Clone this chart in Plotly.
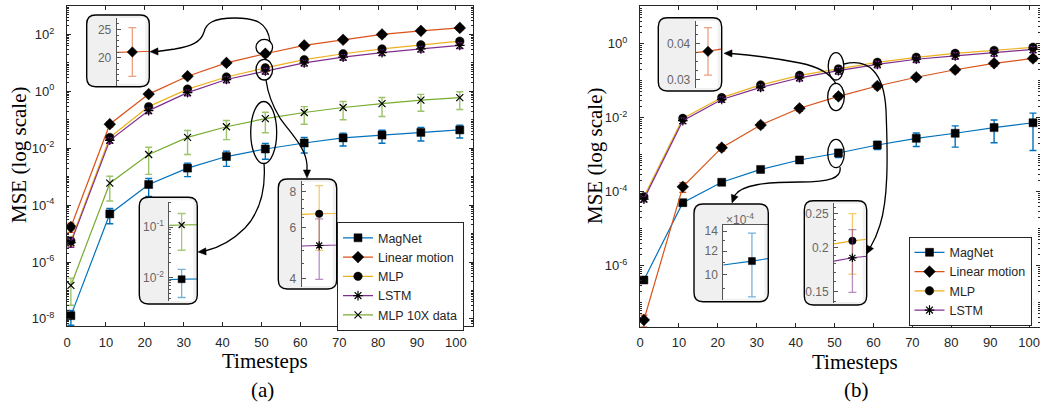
import math
import plotly.graph_objects as go

W, H = 1040, 412

# ---------------- data ----------------
timesteps = [1, 11, 21, 31, 41, 51, 61, 71, 81, 91, 101]
x_tick_vals = [0, 10, 20, 30, 40, 50, 60, 70, 80, 90, 100]

# panel (a)
magnet_a = [1.3e-8, 4.9e-5, 5.3e-4, 2.0e-3, 5.1e-3, 9.4e-3, 0.0153, 0.023, 0.029, 0.036, 0.044]
magnet_a_err = [0.7e-8, 2.7e-5, 3.3e-4, 1.0e-3, 2.8e-3, 5.3e-3, 8.5e-3, 0.011, 0.014, 0.018, 0.021]
linear_a = [1.7e-5, 0.07, 0.8, 3.4, 10, 21, 41, 65, 100, 134, 170]
linear_a_err = [6e-6, 0.015, 0.15, 0.6, 1.8, 4.3, 7, 11, 17, 23, 29]
mlp_a = [5.5e-6, 0.024, 0.29, 1.2, 3.2, 6.7, 13, 21, 31, 43, 58]
mlp_a_err = [1.8e-6, 0.005, 0.06, 0.25, 0.7, 1.7, 3, 4.5, 6.5, 9, 12]
lstm_a = [4.8e-6, 0.019, 0.21, 0.9, 2.6, 5.2, 10, 16, 23, 31, 41]
lstm_a_err = [1.5e-6, 0.004, 0.045, 0.2, 0.6, 1.23, 2.3, 3.6, 5, 7, 9]
mlp10_a = [1.5e-7, 5.9e-4, 0.006, 0.024, 0.057, 0.11, 0.18, 0.27, 0.37, 0.49, 0.6]
mlp10_a_err = [1.2e-7, 4.5e-4, 0.0048, 0.018, 0.037, 0.075, 0.11, 0.17, 0.24, 0.29, 0.37]

# panel (b)
magnet_b = [4.1e-7, 5.05e-5, 1.8e-4, 4.0e-4, 7.2e-4, 1.11e-3, 1.83e-3, 2.77e-3, 3.8e-3, 5.4e-3, 7.3e-3]
magnet_b_err = [5e-8, 6e-6, 2e-5, 5e-5, 1e-4, 2.7e-4, 4.5e-4, 1.1e-3, 2.2e-3, 3.3e-3, 6e-3]
linear_b = [3.4e-8, 1.36e-4, 1.55e-3, 6.35e-3, 0.018, 0.0378, 0.072, 0.124, 0.198, 0.295, 0.40]
linear_b_err = [1.2e-8, 4e-5, 3e-4, 1.1e-3, 3e-3, 0.0065, 0.012, 0.02, 0.032, 0.048, 0.065]
mlp_b = [7.3e-5, 9.6e-3, 0.035, 0.077, 0.14, 0.209, 0.314, 0.43, 0.55, 0.66, 0.8]
mlp_b_err = [1.2e-5, 1.6e-3, 6e-3, 0.014, 0.026, 0.041, 0.06, 0.08, 0.1, 0.12, 0.14]
lstm_b = [6.3e-5, 8.3e-3, 0.031, 0.066, 0.12, 0.187, 0.277, 0.38, 0.47, 0.57, 0.7]
lstm_b_err = [1e-5, 1.4e-3, 5e-3, 0.012, 0.022, 0.038, 0.055, 0.07, 0.09, 0.11, 0.13]

# tick labels
y_tick_vals_a = [1e2, 1e0, 1e-2, 1e-4, 1e-6, 1e-8]
y_tick_text_a = ["10<sup>2</sup>", "10<sup>0</sup>", "10<sup>-2</sup>", "10<sup>-4</sup>", "10<sup>-6</sup>", "10<sup>-8</sup>"]
y_tick_vals_b = [1e0, 1e-2, 1e-4, 1e-6]
y_tick_text_b = ["10<sup>0</sup>", "10<sup>-2</sup>", "10<sup>-4</sup>", "10<sup>-6</sup>"]

# ---------------- style ----------------
C_BLUE = "#0072BD"
C_ORANGE = "#D95319"
C_YELLOW = "#EDB120"
C_PURPLE = "#7E2F8E"
C_GREEN = "#77AC30"
C_BLUE_L = "rgba(0,114,189,0.55)"
C_ORANGE_L = "rgba(217,83,25,0.55)"
C_YELLOW_L = "rgba(237,177,32,0.65)"
C_PURPLE_L = "rgba(126,47,142,0.55)"
C_GREEN_L = "rgba(119,172,48,0.65)"
AX = "#262626"
SANS = "Liberation Sans, Arial, sans-serif"
SERIF = "Liberation Serif, Times New Roman, serif"

MARK = {
    "MagNet": dict(symbol="square", size=8, color="black", line=dict(color="black", width=0.5)),
    "Linear motion": dict(symbol="diamond", size=9, color="black", line=dict(color="black", width=0.5)),
    "MLP": dict(symbol="circle", size=8.5, color="black", line=dict(color="black", width=0.5)),
    "LSTM": dict(symbol="asterisk-open", size=8, color="black", line=dict(color="black", width=1.2)),
    "MLP 10X data": dict(symbol="x-thin-open", size=7, color="black", line=dict(color="black", width=1.2)),
}

def px(x):
    return x / W

def py(y):
    return 1 - y / H

fig = go.Figure()

panel_a = [
    ("MagNet", magnet_a, magnet_a_err, C_BLUE, C_BLUE),
    ("Linear motion", linear_a, linear_a_err, C_ORANGE, C_ORANGE),
    ("MLP", mlp_a, mlp_a_err, C_YELLOW, C_YELLOW),
    ("LSTM", lstm_a, lstm_a_err, C_PURPLE, C_PURPLE),
    ("MLP 10X data", mlp10_a, mlp10_a_err, C_GREEN, "#9CC46A"),
]
panel_b = [
    ("MagNet", magnet_b, magnet_b_err, C_BLUE, C_BLUE),
    ("Linear motion", linear_b, linear_b_err, C_ORANGE, C_ORANGE),
    ("MLP", mlp_b, mlp_b_err, C_YELLOW, C_YELLOW),
    ("LSTM", lstm_b, lstm_b_err, C_PURPLE, C_PURPLE),
]

for name, ys, es, col, ecol in panel_a:
    fig.add_trace(go.Scatter(
        x=timesteps, y=ys, name=name, mode="lines+markers",
        line=dict(color=col, width=1.2), marker=MARK[name],
        error_y=dict(type="data", array=es, visible=True, color=ecol, thickness=1.4, width=3.5),
        xaxis="x", yaxis="y", legend="legend"))

for name, ys, es, col, ecol in panel_b:
    fig.add_trace(go.Scatter(
        x=timesteps, y=ys, name=name, mode="lines+markers",
        line=dict(color=col, width=1.2), marker=MARK[name],
        error_y=dict(type="data", array=es, visible=True, color=ecol, thickness=1.4, width=3.5),
        xaxis="x2", yaxis="y2", legend="legend2"))

# ---------------- insets ----------------
def lg(v):
    return math.log10(v)

insets = [
    dict(box=(86.7, 15, 149.3, 86.7), ax=(116.7, 18, 149.3, 86), ytype="linear", yr=[15, 27], xr=[50.94, 51.065],
         series=[("Linear motion", linear_a, linear_a_err, C_ORANGE, C_ORANGE_L)],
         tv=[20, 25], tt=["20", "25"], minor=[16, 17, 18, 19, 21, 22, 23, 24, 26]),
    dict(box=(139.3, 197.3, 197.3, 304), ax=(169.3, 201.7, 197.3, 300.7), ytype="log", yr=[-2.45, -0.5], xr=[50.74, 51.33],
         series=[("MLP 10X data", mlp10_a, mlp10_a_err, C_GREEN, C_GREEN_L),
                 ("MagNet", magnet_a, magnet_a_err, C_BLUE, C_BLUE_L)],
         tv=[0.1, 0.01], tt=["10<sup>-1</sup>", "10<sup>-2</sup>"],
         minor=[k * 10 ** d for d in (-3, -2, -1) for k in range(2, 10)]),
    dict(box=(278.3, 179, 336.7, 289), ax=(301.7, 181, 336.7, 287), ytype="log", yr=[0.572, 0.94], xr=[50.94, 51.06],
         series=[("MLP", mlp_a, mlp_a_err, C_YELLOW, C_YELLOW_L),
                 ("LSTM", lstm_a, lstm_a_err, C_PURPLE, C_PURPLE_L)],
         tv=[4, 6, 8], tt=["4", "6", "8"], minor=[4.5, 5, 5.5, 6.5, 7, 7.5, 8.5]),
    dict(box=(658.3, 17.7, 721.7, 91), ax=(695.7, 21, 721.7, 88.3), ytype="linear", yr=[0.0277, 0.0461], xr=[50.83, 51.19],
         series=[("Linear motion", linear_b, linear_b_err, C_ORANGE, C_ORANGE_L)],
         tv=[0.03, 0.04], tt=["0.03", "0.04"], minor=[0.0275, 0.0325, 0.035, 0.0375, 0.0425, 0.045]),
    dict(box=(694, 204, 768.3, 301.7), ax=(723.3, 225, 768.3, 300), ytype="log", yr=[lg(8.2e-4), lg(14.7e-4)], xr=[50.3, 51.4],
         series=[("MagNet", magnet_b, magnet_b_err, C_BLUE, C_BLUE_L)],
         tv=[1.0e-3, 1.2e-3, 1.4e-3], tt=["10", "12", "14"], minor=[9e-4, 1.1e-3, 1.3e-3], top=True),
    dict(box=(804.3, 200.7, 866.7, 305), ax=(834, 203, 866.7, 303), ytype="log", yr=[lg(0.139), lg(0.268)], xr=[50.51, 51.38],
         series=[("MLP", mlp_b, mlp_b_err, C_YELLOW, C_YELLOW_L),
                 ("LSTM", lstm_b, lstm_b_err, C_PURPLE, C_PURPLE_L)],
         tv=[0.15, 0.2, 0.25], tt=["0.15", "0.2", "0.25"],
         minor=[0.14, 0.16, 0.17, 0.18, 0.19, 0.21, 0.22, 0.23, 0.24, 0.26]),
]

shapes = []
layout_axes = {}

def rounded_rect(x0, y0, x1, y1, r=9):
    p = lambda x, y: f"{px(x):.5f},{py(y):.5f}"
    return (f"M {p(x0 + r, y0)} L {p(x1 - r, y0)} Q {p(x1, y0)} {p(x1, y0 + r)} "
            f"L {p(x1, y1 - r)} Q {p(x1, y1)} {p(x1 - r, y1)} L {p(x0 + r, y1)} "
            f"Q {p(x0, y1)} {p(x0, y1 - r)} L {p(x0, y0 + r)} Q {p(x0, y0)} {p(x0 + r, y0)} Z")

for i, ins in enumerate(insets):
    n = i + 3
    bx0, by0, bx1, by1 = ins["box"]
    ax0, ay0, ax1, ay1 = ins["ax"]
    top = bool(ins.get("top"))
    path = rounded_rect(bx0, by0, bx1, by1)
    shapes.append(dict(type="path", path=path, xref="paper", yref="paper", layer="below",
                       fillcolor="#F0F0F0", line=dict(width=0)))
    shapes.append(dict(type="rect", xref="paper", yref="paper", layer="below",
                       x0=px(ax0), x1=px(bx1 - 4),
                       y0=py(by1 - 3), y1=py(ay0 if top else by0 + 3),
                       fillcolor="white", line=dict(width=0)))
    shapes.append(dict(type="path", path=path, xref="paper", yref="paper", layer="above",
                       fillcolor="rgba(0,0,0,0)", line=dict(color="black", width=1.4)))
    xa = dict(domain=[px(ax0), px(ax1)], range=ins["xr"], anchor=f"y{n}", showgrid=False, zeroline=False,
              showticklabels=False, ticks="", showline=top, linecolor="#555", linewidth=1,
              side="top" if top else "bottom", automargin=False)
    ya = dict(domain=[py(ay1), py(ay0)], type=ins["ytype"], range=ins["yr"], anchor=f"x{n}",
              showgrid=False, zeroline=False, showline=True, linecolor="#555", linewidth=1,
              ticks="inside", ticklen=4, tickcolor="#555", tickmode="array", tickvals=ins["tv"], ticktext=ins["tt"],
              tickfont=dict(family=SANS, size=12, color="#666666"), ticklabelstandoff=2, automargin=False,
              minor=dict(ticks="inside", ticklen=2, tickcolor="#555", tickmode="array", tickvals=ins["minor"]))
    layout_axes[f"xaxis{n}"] = xa
    layout_axes[f"yaxis{n}"] = ya
    for name, ys, es, col, ecol in ins["series"]:
        mk = dict(MARK[name])
        mk["size"] = max(6, mk["size"] - 1)
        fig.add_trace(go.Scatter(
            x=timesteps, y=ys, mode="lines+markers", showlegend=False,
            line=dict(color=col, width=1.1), marker=mk,
            error_y=dict(type="data", array=es, visible=True, color=ecol, thickness=1.3, width=4),
            xaxis=f"x{n}", yaxis=f"y{n}"))

# ---------------- ellipses + arrows ----------------
ellipses = [(264.3, 47.2, 8.3, 7.8), (264.3, 69.7, 8.3, 10.3), (263.7, 132.5, 13, 31),
            (836, 66.3, 7.8, 13.7), (836, 97, 8.3, 13.7), (836, 153.5, 8.3, 14.2)]
for cx, cy, rx, ry in ellipses:
    shapes.append(dict(type="circle", xref="paper", yref="paper", layer="above",
                       x0=px(cx - rx), x1=px(cx + rx), y0=py(cy + ry), y1=py(cy - ry),
                       line=dict(color="black", width=1.3)))

def p(x, y):
    return f"{px(x):.5f},{py(y):.5f}"

def curve(start, segs):
    s = "M " + p(*start)
    for seg in segs:
        if len(seg) == 3:
            s += " C " + " ".join(p(*q) for q in seg)
        else:
            s += " L " + p(*seg[0])
    return s

def head(tip, frm, L=8, w=3.6):
    dx, dy = tip[0] - frm[0], tip[1] - frm[1]
    d = math.hypot(dx, dy)
    ux, uy = dx / d, dy / d
    bx, by = tip[0] - ux * L, tip[1] - uy * L
    b1 = (bx - uy * w, by + ux * w)
    b2 = (bx + uy * w, by - ux * w)
    return f"M {p(*tip)} L {p(*b1)} L {p(*b2)} Z"

arrows = [
    ((270, 42), [((268, 22), (255, 18), (235, 18)), ((212, 18), (206, 24), (204, 32)),
                 ((201, 42), (192, 46), (175, 49)), ((157, 51.5),)], (150, 51.7)),
    ((266, 80), [((268, 95), (272, 105), (280, 118)), ((292, 135), (306, 148), (307, 165)), ((307, 171),)], (307, 178)),
    ((264, 163), [((266, 190), (260, 212), (245, 228)), ((232, 241), (218, 248), (205, 251)), ((205, 251.5),)], (198, 252)),
    ((836, 84), [((831, 74), (820, 67), (800, 63)), ((770, 57), (750, 55), (731, 53.5)), ((731, 53.4),)], (724, 53.3)),
    ((844, 64), [((868, 58), (884, 72), (886, 110)), ((888, 160), (888, 200), (880, 225)),
                 ((877, 235), (873, 243), (870, 248)), ((869.5, 248.5),)], (866.7, 254)),
    ((840, 167), [((842, 178), (830, 182), (800, 182)), ((765, 182), (742, 185), (735, 195)), ((734.5, 196),)], (732, 203)),
]
for start, segs, tip in arrows:
    shapes.append(dict(type="path", path=curve(start, segs), xref="paper", yref="paper", layer="above",
                       line=dict(color="black", width=1.3)))
    last = segs[-1][-1]
    shapes.append(dict(type="path", path=head(tip, last), xref="paper", yref="paper", layer="above",
                       fillcolor="black", line=dict(color="black", width=0.5)))

# ---------------- main axes ----------------
def log_minor(lo, hi):
    return [k * 10 ** d for d in range(lo, hi) for k in range(1, 10)]

common_x = dict(showgrid=False, zeroline=False, showline=True, linecolor=AX, linewidth=1, mirror="ticks",
                ticks="inside", ticklen=4, tickcolor=AX, tickmode="array", tickvals=x_tick_vals,
                tickfont=dict(family=SANS, size=13, color=AX), ticklabelstandoff=4, automargin=False)
common_y = dict(showgrid=False, zeroline=False, showline=True, linecolor=AX, linewidth=1, mirror="ticks",
                ticks="inside", ticklen=4, tickcolor=AX, type="log", tickmode="array",
                tickfont=dict(family=SANS, size=13, color=AX), ticklabelstandoff=9, automargin=False)

layout_axes["xaxis"] = dict(common_x, domain=[px(67), px(473)], range=[0, 104.4], anchor="y")
layout_axes["yaxis"] = dict(common_y, domain=[py(326), py(6)], range=[-8.25, 3], anchor="x",
                            tickvals=y_tick_vals_a, ticktext=y_tick_text_a,
                            minor=dict(ticks="inside", ticklen=2, tickcolor=AX, tickmode="array",
                                       tickvals=log_minor(-9, 3)))
layout_axes["xaxis2"] = dict(common_x, domain=[px(640), 1], range=[0, 102.8], anchor="y2")
layout_axes["yaxis2"] = dict(common_y, domain=[py(326.7), py(6)], range=[-7.65, 1.02], anchor="x2",
                             tickvals=y_tick_vals_b, ticktext=y_tick_text_b,
                             minor=dict(ticks="inside", ticklen=2, tickcolor=AX, tickmode="array",
                                        tickvals=log_minor(-8, 2)))

annotations = [
    dict(text="Timesteps", x=px(265), y=py(361), xref="paper", yref="paper", showarrow=False,
         font=dict(family=SERIF, size=21, color="black"), xanchor="center", yanchor="middle"),
    dict(text="(a)", x=px(262), y=py(390), xref="paper", yref="paper", showarrow=False,
         font=dict(family=SERIF, size=21, color="black"), xanchor="center", yanchor="middle"),
    dict(text="MSE (log scale)", x=px(19), y=py(155), xref="paper", yref="paper", showarrow=False, textangle=-90,
         font=dict(family=SERIF, size=21, color="black"), xanchor="center", yanchor="middle"),
    dict(text="Timesteps", x=px(855), y=py(361.5), xref="paper", yref="paper", showarrow=False,
         font=dict(family=SERIF, size=21, color="black"), xanchor="center", yanchor="middle"),
    dict(text="(b)", x=px(856.5), y=py(390), xref="paper", yref="paper", showarrow=False,
         font=dict(family=SERIF, size=21, color="black"), xanchor="center", yanchor="middle"),
    dict(text="MSE (log scale)", x=px(595), y=py(156), xref="paper", yref="paper", showarrow=False, textangle=-90,
         font=dict(family=SERIF, size=21, color="black"), xanchor="center", yanchor="middle"),
    dict(text="×10<sup>-4</sup>", x=px(724), y=py(219), xref="paper", yref="paper", showarrow=False,
         font=dict(family=SANS, size=12, color="#666666"), xanchor="left", yanchor="middle"),
]

legend_style = dict(bgcolor="white", bordercolor=AX, borderwidth=1, font=dict(family=SANS, size=12.5, color=AX),
                    xanchor="left", yanchor="middle", tracegroupgap=0, itemwidth=30, xref="paper", yref="paper")

fig.update_layout(
    width=W, height=H, autosize=False,
    margin=dict(l=0, r=0, t=0, b=0, pad=0, autoexpand=False),
    paper_bgcolor="white", plot_bgcolor="rgba(0,0,0,0)",
    showlegend=True,
    legend=dict(legend_style, x=px(337), y=py(276.7)),
    legend2=dict(legend_style, x=px(908.5), y=py(281.2)),
    shapes=shapes, annotations=annotations,
    **layout_axes,
)

fig.write_html("out.html", config={"displayModeBar": False},
               post_script="document.body.style.margin='0';document.body.style.overflow='hidden';")
